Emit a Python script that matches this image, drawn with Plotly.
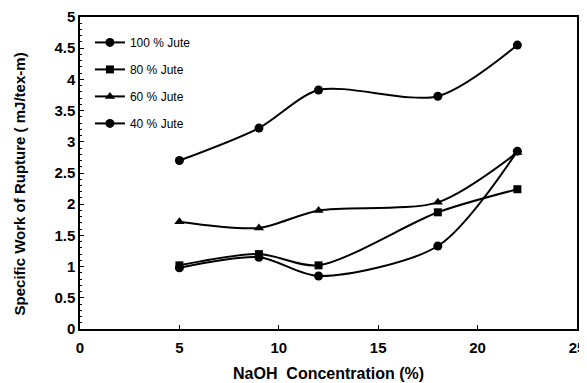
import plotly.graph_objects as go

naoh = [5, 9, 12, 18, 22]
jute100 = [2.70, 3.22, 3.83, 3.73, 4.55]
jute80 = [1.02, 1.20, 1.02, 1.87, 2.24]
jute60 = [1.72, 1.62, 1.90, 2.03, 2.83]
jute40 = [0.98, 1.15, 0.85, 1.33, 2.85]

series = [
    ("100 % Jute", jute100, "circle", 9),
    ("80 % Jute", jute80, "square", 8),
    ("60 % Jute", jute60, "triangle-up", 9),
    ("40 % Jute", jute40, "circle", 9),
]

fig = go.Figure()
for i, (name, ys, sym, sz) in enumerate(series):
    fig.add_trace(go.Scatter(
        x=naoh, y=ys, name=name, mode="lines+markers", legendgroup=f"g{i}",
        line=dict(color="black", width=2, shape="spline", smoothing=0.8),
        marker=dict(symbol=sym, size=sz, color="black"),
    ))

font = dict(family="Liberation Sans, Arial, sans-serif", color="black")
tickfont = dict(size=15, family="Liberation Sans, Arial", color="black", weight="bold")
fig.update_layout(
    width=587, height=383,
    margin=dict(l=72, r=18, t=9, b=62),
    paper_bgcolor="white", plot_bgcolor="white",
    font=dict(**font, size=13),
    showlegend=True,
    legend=dict(x=0.02, y=0.965, xanchor="left", yanchor="top",
                bgcolor="rgba(0,0,0,0)", font=dict(size=12),
                tracegroupgap=8, itemwidth=30),
    xaxis=dict(range=[0, 25], tickvals=[0, 5, 10, 15, 20, 25], automargin=False,
               showline=True, linecolor="black", linewidth=1.5, mirror=True,
               ticks="inside", ticklen=4, tickcolor="black", ticklabelstandoff=4,
               showgrid=False, zeroline=False, tickfont=tickfont),
    yaxis=dict(range=[0, 5], dtick=0.5, automargin=False,
               showline=True, linecolor="black", linewidth=1.5, mirror=True,
               ticks="inside", ticklen=4, tickcolor="black",
               minor=dict(ticks="inside", ticklen=2, dtick=0.1, tickcolor="black"),
               showgrid=False, zeroline=False, tickfont=tickfont),
    annotations=[
        dict(text="<b>NaOH  Concentration (%)</b>", xref="paper", yref="paper",
             x=0.501, y=-0.1415, xanchor="center", yanchor="middle",
             showarrow=False, font=dict(size=16)),
        dict(text="<b>Specific Work of Rupture ( mJ/tex-m)</b>", xref="paper", yref="paper",
             x=-0.121, y=0.466, xanchor="center", yanchor="middle", textangle=-90,
             showarrow=False, font=dict(size=15)),
    ],
)
fig.write_html("out.html")
